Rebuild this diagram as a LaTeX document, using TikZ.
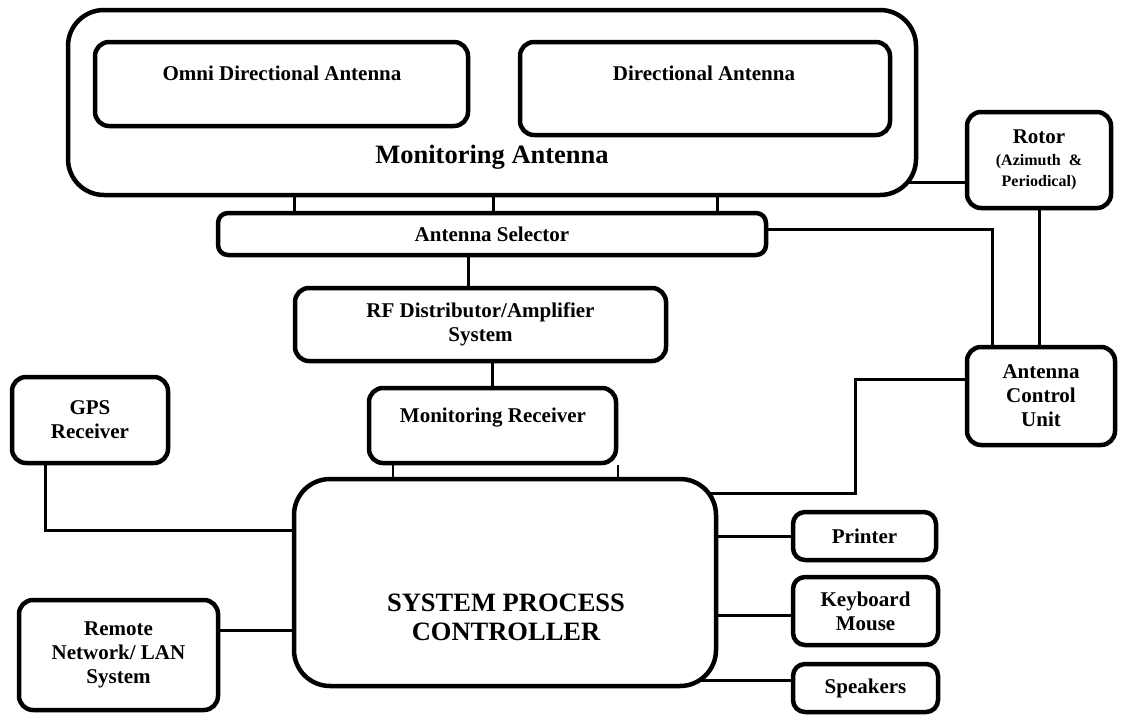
\documentclass[tikz,border=0pt]{standalone}
\usepackage{fontspec}
\setmainfont{Liberation Serif}
\usetikzlibrary{backgrounds}

\begin{document}
\begin{tikzpicture}[x=1pt,y=-1pt,line join=round]
    \tikzstyle{block}=[draw=black,fill=white,line width=4.5pt,rounded corners=14pt,inner sep=0pt,align=center,font=\bfseries\fontsize{21}{24}\selectfont]
    \tikzstyle{big block}=[block,rounded corners=36pt]
    \tikzstyle{link}=[draw=black,line width=3pt]
    \tikzstyle{thin link}=[draw=black,line width=1.3pt]
    \tikzstyle{annot}=[inner sep=0pt,align=center,font=\bfseries\fontsize{21}{24}\selectfont]
    \tikzstyle{big annot}=[annot,font=\bfseries\fontsize{26.5}{29}\selectfont]

    \useasboundingbox (0,0) rectangle (1126,715);

    % Draw the antenna blocks
    \node[big block,minimum width=848pt,minimum height=185pt] (ant) at (492,102.5) {};
    \node[block,minimum width=373pt,minimum height=84pt] (omni) at (281.5,84) {};
    \node[block,minimum width=370pt,minimum height=93pt] (dir) at (705,88.5) {};
    \node[annot] (omni-t) at (282,73) {Omni Directional Antenna};
    \node[annot] (dir-t) at (704,73) {Directional Antenna};
    \node[big annot] (ant-t) at (492,157) {Monitoring Antenna};
    \node[block,minimum width=144pt,minimum height=96pt] (rotor) at (1039,160)
        {Rotor\\[-2pt]{\fontsize{16}{19}\selectfont(Azimuth \ \&}\\[-3pt]{\fontsize{16}{19}\selectfont Periodical)}};

    % Draw the receiving chain
    \node[block,minimum width=548pt,minimum height=42pt,rounded corners=10pt] (sel) at (492,234) {Antenna Selector};
    \node[block,minimum width=371pt,minimum height=73pt] (rf) at (480.5,324.5) {RF Distributor/Amplifier\\System};
    \node[block,minimum width=247pt,minimum height=75pt] (mr) at (492.5,425.5) {};
    \node[annot] (mr-t) at (493,418) {Monitoring Receiver};
    \node[block,minimum width=148pt,minimum height=98pt] (acu) at (1041,396) {Antenna\\Control\\Unit};

    % Draw the controller and its peripherals
    \node[big block,minimum width=422pt,minimum height=207pt] (spc) at (505,582.5) {};
    \node[big annot] (spc-t) at (506,617) {SYSTEM PROCESS\\CONTROLLER};
    \node[block,minimum width=156pt,minimum height=86pt] (gps) at (90,420) {GPS\\Receiver};
    \node[block,minimum width=199pt,minimum height=110pt] (lan) at (118.5,655) {Remote\\Network/ LAN\\System};
    \node[block,minimum width=143pt,minimum height=48pt,rounded corners=12pt] (prn) at (864.5,536) {Printer};
    \node[block,minimum width=145pt,minimum height=68pt,rounded corners=12pt] (kbd) at (865.5,611) {Keyboard\\Mouse};
    \node[block,minimum width=145pt,minimum height=48pt,rounded corners=12pt] (spk) at (865.5,688) {Speakers};

    \begin{scope}[on background layer]
    % Connect the antennas with the selector and the rotor
    \foreach \x in {294,493,717}
        \path[link] (ant.center -| \x,0) -- (sel.center -| \x,0);
    \path[link] (ant.center |- 0,182) -- (rotor.center |- 0,182);

    % Connect the control unit
    \path[link] (sel.center |- 0,229) -| (acu.center -| 992,0);
    \path[link] (rotor) -- (rotor |- acu);
    \path[link] (acu.center |- 0,379) -| (855,493) -- (spc.center |- 0,493);

    % Connect the receiving chain
    \path[link] (sel.center -| 468,0) -- (rf.center -| 468,0);
    \path[link] (rf.center -| mr) -- (mr);
    \foreach \x in {393,618}
        \path[thin link] (mr.south -| \x,0) -- (spc.center -| \x,0);

    % Connect the peripherals with the controller
    \path[link] (gps.center -| 45,0) |- (spc.center |- 0,530);
    \path[link] (lan.center |- 0,630) -- (spc.center |- 0,630);
    \path[link] (spc.center |- prn) -- (prn);
    \path[link] (spc.center |- 0,615) -- (kbd.center |- 0,615);
    \path[link] (spc.center |- 0,680) -- (spk.center |- 0,680);
    \end{scope}
\end{tikzpicture}
\end{document}
